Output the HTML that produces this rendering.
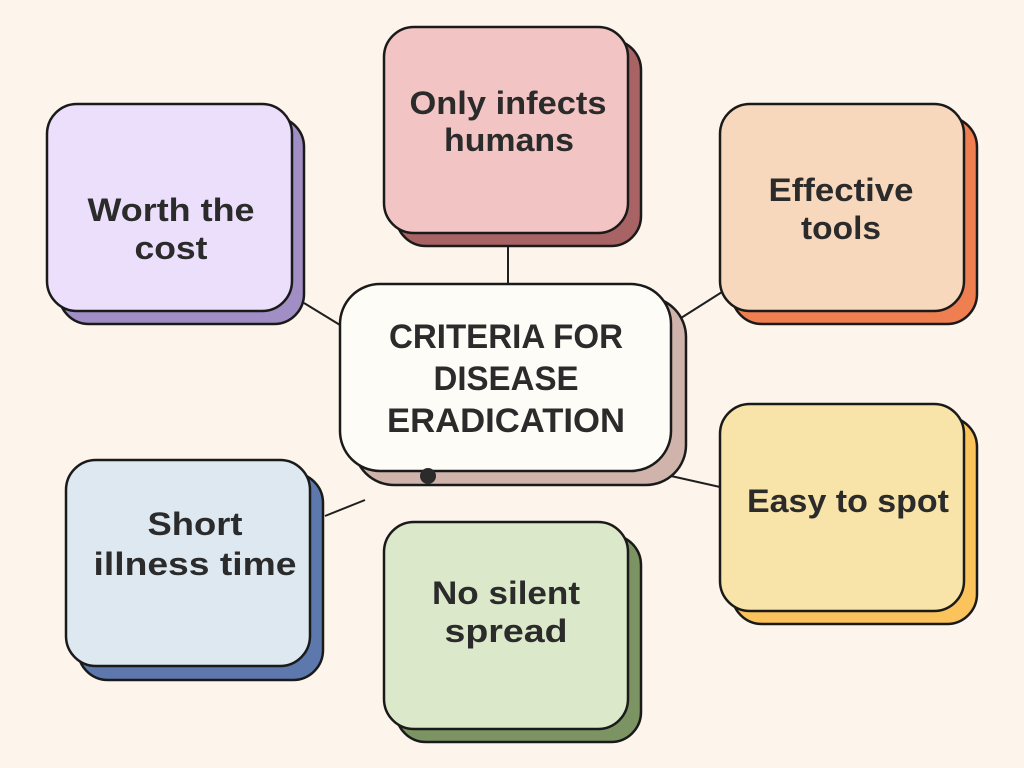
<!DOCTYPE html>
<html><head><meta charset="utf-8"><style>
html,body{margin:0;padding:0;background:#fdf5ec;}
svg{display:block}
text{font-family:"Liberation Sans",sans-serif;font-weight:bold;fill:#2b2b2b;text-anchor:middle;}
</style></head><body>
<svg width="1024" height="768" viewBox="0 0 1024 768">
<rect width="1024" height="768" fill="#fdf5ec"/>
<g stroke="#1f1f1f" stroke-width="2">
<line x1="508" y1="246" x2="508" y2="284"/>
<line x1="304" y1="303" x2="340" y2="325"/>
<line x1="681" y1="318" x2="722" y2="292"/>
<line x1="671" y1="476" x2="720" y2="487"/>
<line x1="325" y1="516" x2="365" y2="500"/>
</g>
<g stroke="#1a1a1a" stroke-width="2.5">
<rect x="59" y="117" width="245" height="207" rx="30" fill="#a08ec4"/>
<rect x="47" y="104" width="245" height="207" rx="30" fill="#ebdffc"/>
<rect x="396" y="40" width="245" height="206" rx="30" fill="#a86464"/>
<rect x="384" y="27" width="244" height="206" rx="30" fill="#f2c4c4"/>
<rect x="732" y="117" width="245" height="207" rx="30" fill="#ef7e50"/>
<rect x="720" y="104" width="244" height="207" rx="30" fill="#f8d8bc"/>
<rect x="732" y="417" width="245" height="207" rx="30" fill="#fbc35b"/>
<rect x="720" y="404" width="244" height="207" rx="30" fill="#f8e3a8"/>
<rect x="78" y="473" width="245" height="207" rx="30" fill="#5d78ad"/>
<rect x="66" y="460" width="244" height="206" rx="30" fill="#dde8f1"/>
<rect x="396" y="535" width="245" height="207" rx="30" fill="#7c9463"/>
<rect x="384" y="522" width="244" height="207" rx="30" fill="#dbe8c9"/>
<rect x="354" y="297" width="332" height="188" rx="40" fill="#d0b3aa"/>
<rect x="340" y="284" width="331" height="187" rx="40" fill="#fdfcf7"/>
</g>
<circle cx="428" cy="476" r="8" fill="#2b2b2b"/>
<g font-size="32" lengthAdjust="spacingAndGlyphs">
<text x="171" y="221" textLength="167" lengthAdjust="spacingAndGlyphs">Worth the</text><text x="171" y="259" textLength="73" lengthAdjust="spacingAndGlyphs">cost</text>
<text x="508" y="114" textLength="197" lengthAdjust="spacingAndGlyphs">Only infects</text><text x="509" y="151" textLength="130" lengthAdjust="spacingAndGlyphs">humans</text>
<text x="841" y="201" textLength="145" lengthAdjust="spacingAndGlyphs">Effective</text><text x="841" y="239" textLength="80" lengthAdjust="spacingAndGlyphs">tools</text>
<text x="848" y="512" textLength="202" lengthAdjust="spacingAndGlyphs">Easy to spot</text>
<text x="195" y="535" textLength="95" lengthAdjust="spacingAndGlyphs">Short</text><text x="195" y="575" textLength="203" lengthAdjust="spacingAndGlyphs">illness time</text>
<text x="506" y="604" textLength="148" lengthAdjust="spacingAndGlyphs">No silent</text><text x="506" y="642" textLength="123" lengthAdjust="spacingAndGlyphs">spread</text>
</g>
<g font-size="34">
<text x="506" y="348" textLength="234" lengthAdjust="spacingAndGlyphs">CRITERIA FOR</text>
<text x="506" y="390" textLength="145" lengthAdjust="spacingAndGlyphs">DISEASE</text>
<text x="506" y="432" textLength="238" lengthAdjust="spacingAndGlyphs">ERADICATION</text>
</g>
</svg>
</body></html>
